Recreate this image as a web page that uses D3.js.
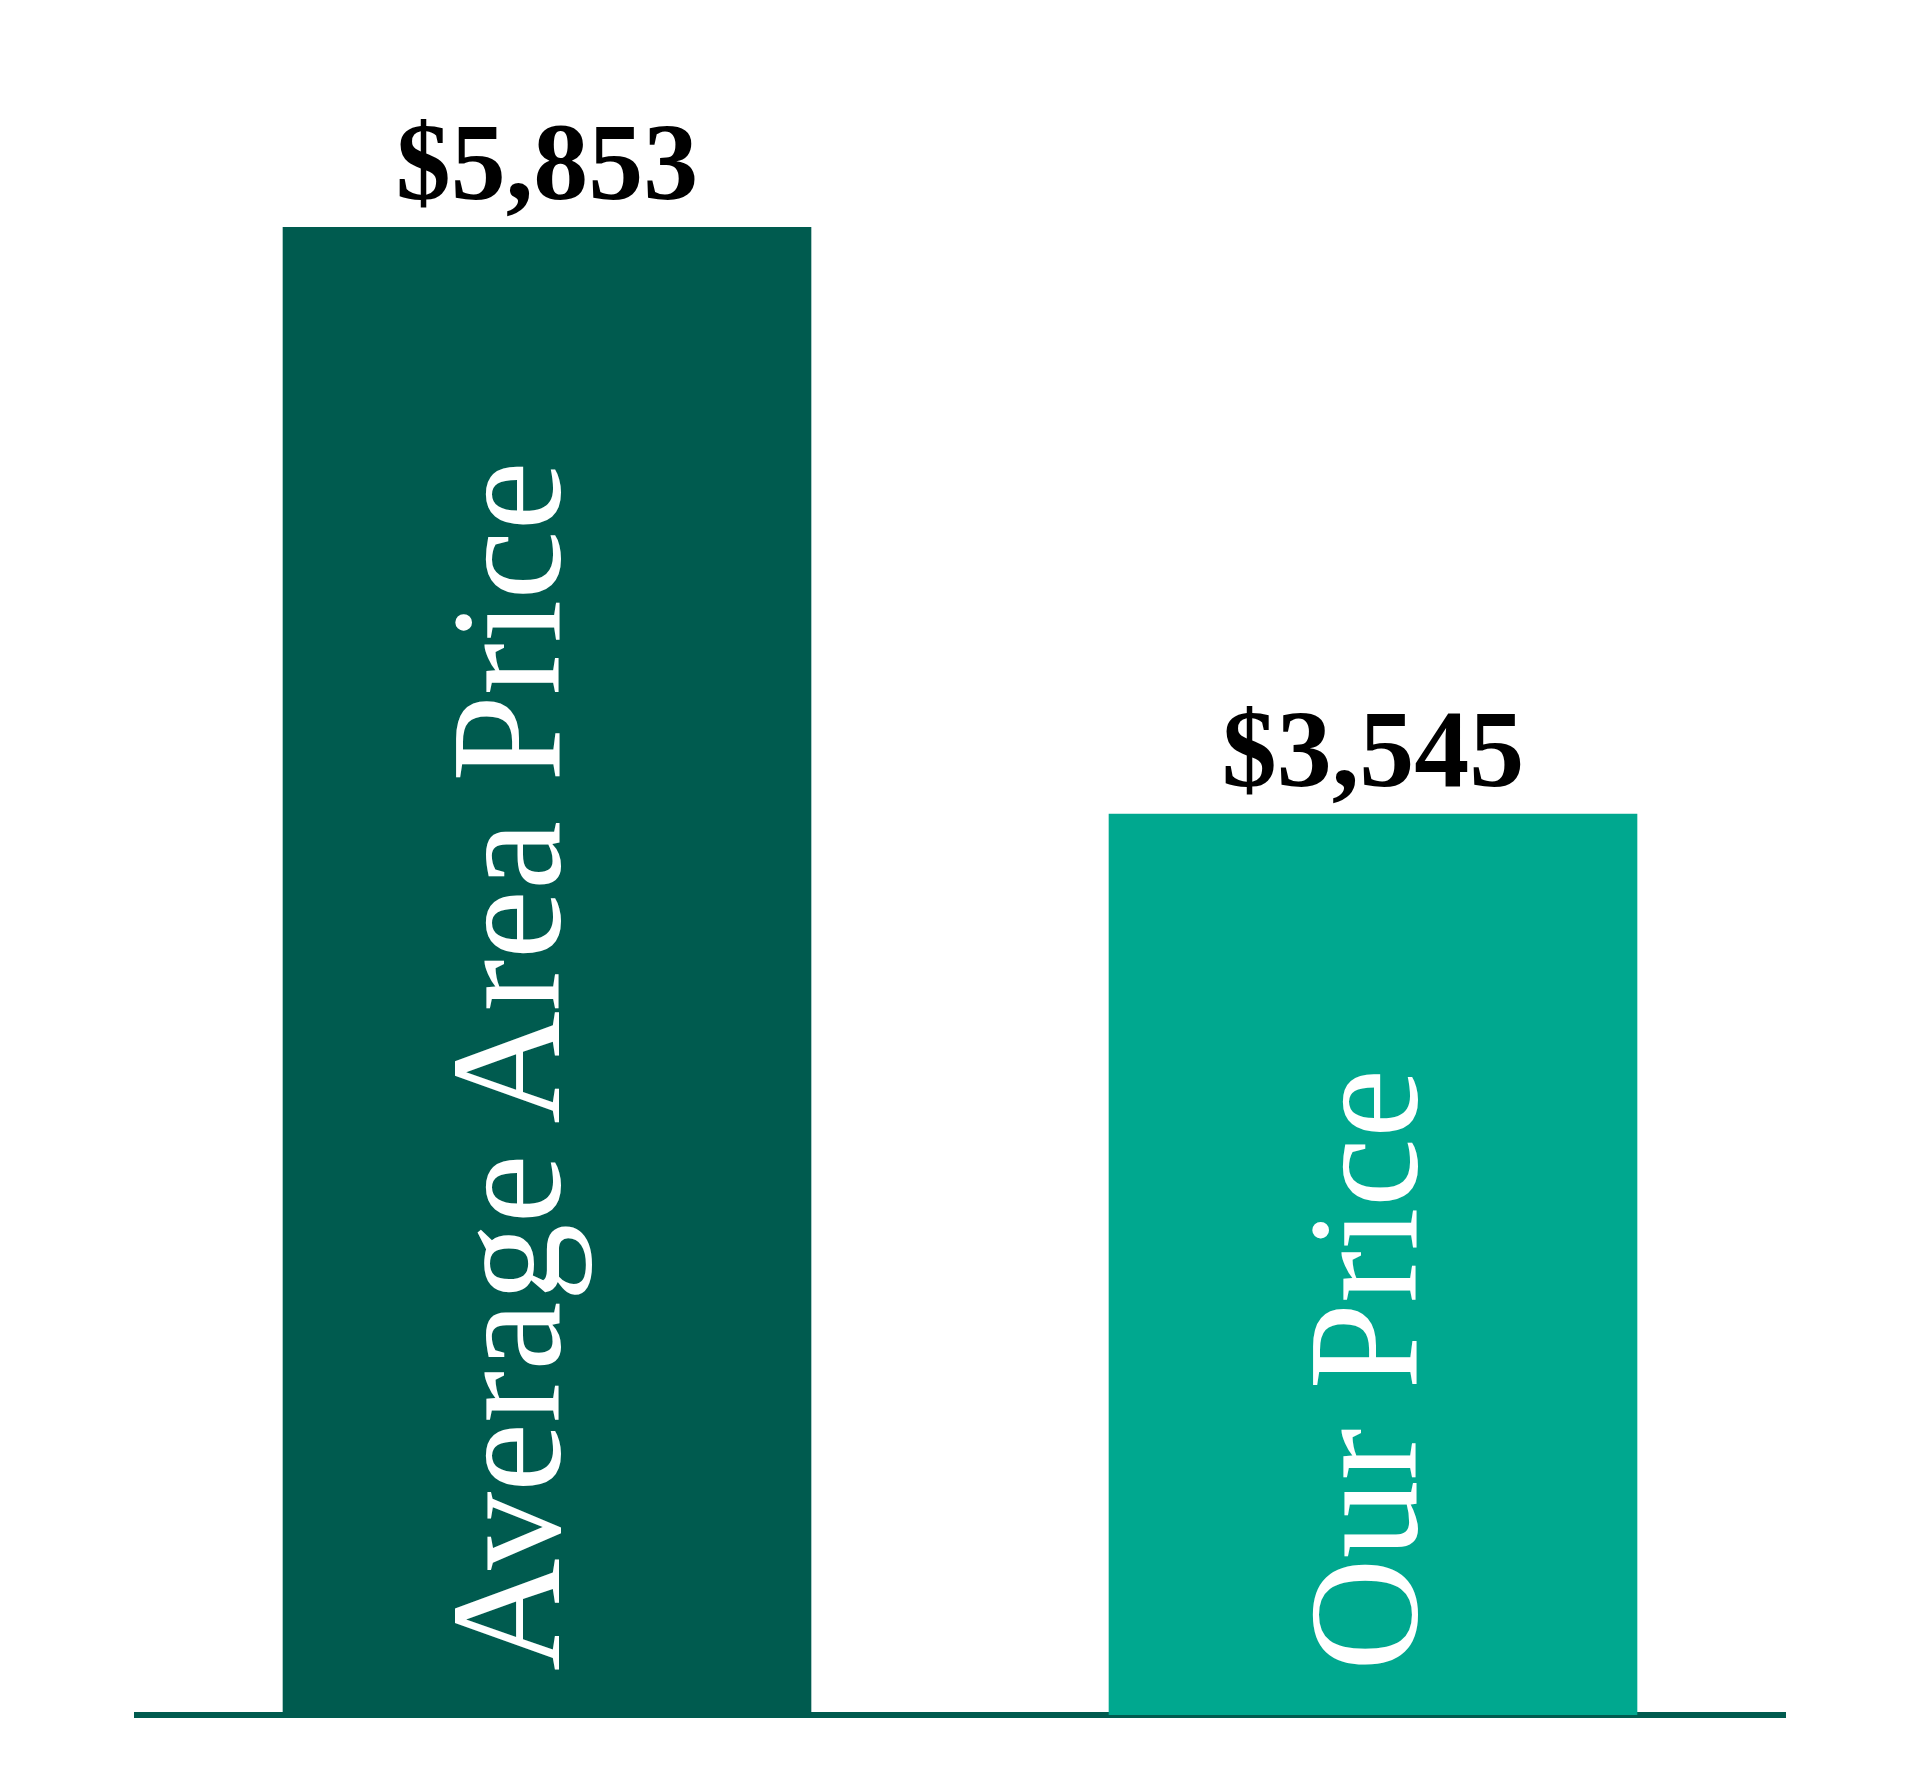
<!DOCTYPE html>
<html>
<head>
<meta charset="utf-8">
<script src="https://cdn.jsdelivr.net/npm/d3@7"></script>
<style>
  body { margin: 0; background: #ffffff; }
  svg { display: block; }
  .serif { font-family: 'Liberation Serif', Tinos, 'Times New Roman', Times, serif; }
</style>
</head>
<body>
<script>
var width = 1920;
var height = 1792;

var categories = ['Average Area Price', 'Our Price'];
var prices = [5853, 3545];
var barColors = ['#005b4f', '#00a88f'];

var data = categories.map((c, i) => ({ name: c, value: prices[i], color: barColors[i] }));

var chart = d3.select('body').append('svg')
  .attr('width', width)
  .attr('height', height);

var x = d3.scaleBand()
  .domain(categories)
  .range([134, 1786])
  .paddingInner(0.36)
  .paddingOuter(0.18);

var y = d3.scaleLinear()
  .domain([0, d3.max(prices)])
  .range([1715, 227]);

// baseline, drawn under the bars
chart.append('line')
  .attr('x1', x.range()[0])
  .attr('x2', x.range()[1])
  .attr('y1', y(0))
  .attr('y2', y(0))
  .style('stroke', '#005b4f')
  .style('stroke-width', 6);

var barG = chart.selectAll('.bar')
  .data(data)
  .enter()
  .append('g')
  .attr('class', 'bar');

barG.append('rect')
  .attr('x', d => x(d.name))
  .attr('y', d => y(d.value))
  .attr('width', x.bandwidth())
  .attr('height', d => y(0) - y(d.value))
  .attr('fill', d => d.color);

// value above each bar
barG.append('text')
  .attr('class', 'serif')
  .attr('x', d => x(d.name) + x.bandwidth() / 2)
  .attr('y', d => y(d.value) - 28)
  .attr('text-anchor', 'middle')
  .style('font-weight', 'bold')
  .style('font-size', '110px')
  .style('fill', '#000000')
  .text(d => '$' + d3.format(',')(d.value));

// category name, rotated inside the bar
var nameShift = [12, 43];
barG.append('text')
  .attr('class', 'serif')
  .attr('transform', (d, i) =>
    'translate(' + (x(d.name) + x.bandwidth() / 2 + nameShift[i]) + ',' + (y(0) - 44) + ') rotate(-90)')
  .attr('text-anchor', 'start')
  .style('font-size', '156px')
  .style('fill', '#ffffff')
  .text(d => d.name);
</script>
</body>
</html>
